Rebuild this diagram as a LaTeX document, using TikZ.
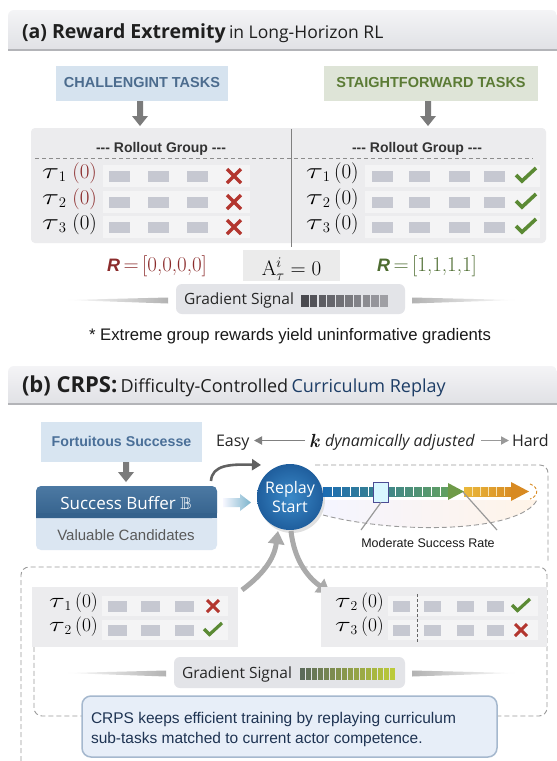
\RequirePackage{fix-cm}
\documentclass[tikz,border=0pt]{standalone}
\usepackage{amsmath,amssymb}
\usepackage{fontspec}
\usetikzlibrary{arrows.meta}
\newfontfamily\osans{Open Sans}
\newfontfamily\arial{Liberation Sans}
\newcommand\fsz[2]{\fontsize{#1}{#2}\selectfont}
\newcommand\wtau{\scalebox{1.5}[1.08]{$\tau$}}
\definecolor{hdrT}{HTML}{F4F4F6}
\definecolor{hdrB}{HTML}{E0E1E5}
\definecolor{hdrLine}{HTML}{B3B4B8}
\definecolor{taskLfill}{HTML}{D6E3EF}
\definecolor{taskLtext}{HTML}{4C6C8E}
\definecolor{taskRfill}{HTML}{DEE4D7}
\definecolor{taskRtext}{HTML}{5B7B35}
\definecolor{arrgray}{HTML}{7B7B7B}
\definecolor{panelc}{HTML}{ECECEE}
\definecolor{bandc}{HTML}{F4F4F5}
\definecolor{sqc}{HTML}{C6C8D1}
\definecolor{xred}{HTML}{B3362F}
\definecolor{cgreen}{HTML}{5B8A34}
\definecolor{dred}{HTML}{8B2B2B}
\definecolor{rgreen}{HTML}{4D6C30}
\definecolor{gboxc}{HTML}{E3E4E8}
\definecolor{navy}{HTML}{1E3352}
\definecolor{fortfill}{HTML}{D8E5F1}
\definecolor{forttext}{HTML}{4A6F98}
\definecolor{bufA}{HTML}{4C79A3}
\definecolor{bufB}{HTML}{34618C}
\definecolor{bufL}{HTML}{DBE6F2}
\definecolor{circI}{HTML}{3B8AC9}
\definecolor{circO}{HTML}{1F5E9D}
\definecolor{capfill}{HTML}{E7EEF8}
\definecolor{capline}{HTML}{A5B8CE}
\definecolor{dashg}{HTML}{9A9A9A}
\definecolor{curblue}{HTML}{1D3D66}
\definecolor{gsA}{HTML}{4A4A50}
\definecolor{gsB}{HTML}{A8A8AD}
\definecolor{ggA}{HTML}{5C6B5A}
\definecolor{ggB}{HTML}{BCCB3A}
\definecolor{pb1}{HTML}{1B6CB3}
\definecolor{pb2}{HTML}{2EA3C6}
\definecolor{pb3}{HTML}{62A060}
\definecolor{pbg}{HTML}{6E9A48}
\definecolor{or1}{HTML}{EAB93C}
\definecolor{or2}{HTML}{D88A22}
\definecolor{bigarr}{HTML}{AAAAAA}
\tikzset{
  tx/.style={inner sep=0pt, outer sep=0pt},
  sq/.style={fill=sqc, minimum width=21pt, minimum height=11pt, inner sep=0pt},
  sqs/.style={fill=sqc, minimum width=17pt, minimum height=11pt, inner sep=0pt},
  taulab/.style={tx, anchor=west, font=\fsz{21}{24}},
  taulabs/.style={tx, anchor=west, font=\fsz{19.5}{22}},
  dashln/.style={draw=dashg, line width=0.9pt, dash pattern=on 5pt off 3pt},
  pics/crossmark/.style={code={\draw[xred, line width=3.4pt] (-7,-7)--(7,7) (-7,7)--(7,-7);}},
  pics/crossmarks/.style={code={\draw[xred, line width=3pt] (-6,-6)--(6,6) (-6,6)--(6,-6);}},
  pics/checkmark/.style={code={\draw[cgreen, line width=3.6pt] (-10,-1)--(-4,5)--(10,-8);}},
  pics/checkmarks/.style={code={\draw[cgreen, line width=3.2pt] (-9,-1)--(-3.5,4.5)--(9,-7);}},
}
\begin{document}
\begin{tikzpicture}[x=1pt,y=-1pt]
\useasboundingbox (0,0) rectangle (557,761);
\fill[white] (0,0) rectangle (557,761);

%% ---------------- (a) header
\shade[top color=hdrT, bottom color=hdrB] (557,50) -- (8,50) [rounded corners=6pt] -- (8,10) -- (557,10) [sharp corners] -- cycle;
\draw[hdrLine, line width=1.2pt] (8,50) -- (557,50);
\node[tx, anchor=base west, text=black!88] (titleA) at (22,38)
  {{\osans\bfseries\fsz{19.5}{22}(a) Reward Extremity} {\osans\fsz{17.5}{20}in Long-Horizon RL}};

%% task boxes
\node[fill=taskLfill, minimum width=172pt, minimum height=35pt, inner sep=0pt,
  font=\arial\bfseries\fsz{14.5}{16}, text=taskLtext] (chal) at (142,83) {CHALLENGINT TASKS};
\node[fill=taskRfill, minimum width=214pt, minimum height=35pt, inner sep=0pt,
  font=\arial\bfseries\fsz{14.5}{16}, text=taskRtext] (stra) at (431,83) {STAIGHTFORWARD TASKS};
\foreach \ax/\nm in {140/arrL,428/arrR}{
  \fill[arrgray] (\ax-3,101) -- (\ax+3,101) -- (\ax+3,116) -- (\ax+8,116) -- (\ax,126) -- (\ax-8,116) -- (\ax-3,116) -- cycle;
}

%% rollout panel
\fill[panelc, rounded corners=4pt] (31,128) rectangle (546,243);
\foreach \y in {176,202,227}{
  \fill[bandc] (103,\y-11) rectangle (250,\y+11);
  \fill[bandc] (365,\y-11) rectangle (540,\y+11);
}
\draw[black!50, line width=0.8pt] (291,129) -- (291,247);
\node[tx, font=\arial\bfseries\fsz{14}{16}, text=black!80, anchor=base] (rgL) at (161,152) {--- Rollout Group ---};
\node[tx, font=\arial\bfseries\fsz{14}{16}, text=black!80, anchor=base] (rgR) at (417,152) {--- Rollout Group ---};
\draw[black!45, line width=0.9pt, dash pattern=on 4pt off 3pt] (35,158) -- (533,158);

\foreach \y/\n/\c in {176/1/dred,202/2/dred,227/3/black}{
  \node[taulab] (lt\n) at (42,\y-3) {$\wtau_{\n}\;\textcolor{\c}{(0)}$};
  \foreach \x in {119,158,197} \node[sq] (ls\n-\x) at (\x,\y) {};
  \pic at (234,\y) {crossmark};
}
\foreach \y/\n in {176/1,202/2,227/3}{
  \node[taulab] (rt\n) at (306,\y-3) {$\wtau_{\n}\,(0)$};
  \foreach \x in {382,419,459,494} \node[sq] (rs\n-\x) at (\x,\y) {};
  \pic at (526,\y) {checkmark};
}

%% reward line
\node[tx, anchor=base, text=dred] (R0) at (157,271)
  {{\arial\bfseries\itshape\fsz{18}{20}R}{\fsz{21}{24}\,=\,[0,0,0,0]}};
\fill[black!8] (243,250) rectangle (340,281);
\node[tx, anchor=base, font=\fsz{21}{24}] (Aeq) at (291.5,275) {$\mathrm{A}^{i}_{\tau}=0$};
\node[tx, anchor=base, text=rgreen] (R1) at (427,271)
  {{\arial\bfseries\itshape\fsz{18}{20}R}{\fsz{21}{24}\,=\,[1,1,1,1]}};

%% gradient signal (a)
\shade[left color=white, right color=black!30] (67,300) -- (168,297.5) -- (168,303.5) -- cycle;
\shade[left color=black!30, right color=white] (412,297.5) -- (515,300) -- (412,303.5) -- cycle;
\fill[gboxc, rounded corners=6pt] (176,284) rectangle (405,314);
\node[tx, anchor=base west, font=\osans\fsz{15.5}{18}, text=black!85] (gsA) at (184,304.5) {Gradient Signal};
\foreach \i in {0,...,9}{
  \pgfmathsetmacro\p{100-\i*10}
  \fill[gsA!\p!gsB] (301+\i*8.8,294.5) rectangle (301+\i*8.8+7.6,306.5);
}
\node[tx, anchor=base, font=\arial\fsz{16.7}{19}, text=black!90] (foot) at (290,340)
  {* Extreme group rewards yield uninformative gradients};

%% ---------------- (b) header
\shade[top color=hdrT, bottom color=hdrB] (557,404) -- (8,404) [rounded corners=6pt] -- (8,366) -- (557,366) [sharp corners] -- cycle;
\draw[hdrLine, line width=1.2pt] (8,404) -- (557,404);
\node[tx, anchor=base west, text=black!88] (titleB) at (22,392)
  {{\osans\bfseries\fsz{22}{26}(b) CRPS:} {\osans\fsz{18}{21}Difficulty-Controlled} {\osans\fsz{18}{21}\color{curblue}Curriculum Replay}};

%% fortuitous + buffer
\node[fill=fortfill, minimum width=161pt, minimum height=40pt, inner sep=0pt,
  font=\arial\bfseries\fsz{14.2}{16}, text=forttext] (fort) at (121.5,441.5) {Fortuitous Successe};
\fill[arrgray] (123,462) -- (129,462) -- (129,472) -- (134,472) -- (126,482) -- (118,472) -- (123,472) -- cycle;

\fill[bufL, rounded corners=5pt] (36,486) rectangle (217,550);
\shade[top color=bufA, bottom color=bufB, rounded corners=5pt] (36,518) -- (36,486) -- (217,486) -- (217,518) [sharp corners] -- cycle;
\fill[bufB] (36,513) rectangle (217,518);
\node[tx, text=white, font=\osans\fsz{17}{20}] (buf) at (126,503) {Success Buffer $\mathbb{B}$};
\node[tx, text=black!65, font=\arial\fsz{15}{17}] (cand) at (126,535) {Valuable Candidates};

%% arrows into replay
\shade[left color=white!85!blue!20, right color=blue!30!cyan!40!white!80!black] (223,498) -- (240,498) -- (240,494) -- (251,502.5) -- (240,511) -- (240,507) -- (223,507) -- cycle;
\draw[black!62, line width=2.6pt, -{Triangle[length=9pt,width=11pt]}] (211,481) .. controls (212,465) and (230,464) .. (261,465);

%% easy / hard line
\node[tx, anchor=base west, font=\osans\fsz{16}{19}, text=black!85] (easy) at (216,446) {Easy};
\draw[black!50, line width=1.8pt, -{Triangle[length=8pt,width=8pt]}] (305,440.5) -- (254,440.5);
\node[tx, anchor=base west, font=\rmfamily\bfseries\itshape\fsz{19}{21}, text=black!90] (kk) at (309,447) {k};
\node[tx, anchor=base west, font=\osans\itshape\fsz{16}{19}, text=black!85] (dyn) at (325,446) {dynamically adjusted};
\draw[black!40, line width=1.8pt, -{Triangle[length=8pt,width=8pt]}] (481,440.5) -- (509,440.5);
\node[tx, anchor=base west, font=\osans\fsz{16}{19}, text=black!85] (hard) at (512,446) {Hard};

%% upper dashed region
\shade[left color=blue!4, right color=orange!9] (323,500) -- (537,500) .. controls (520,532) and (400,535) .. (323,515) -- cycle;
\draw[dashln, rounded corners=8pt] (315,465) -- (548,465) -- (548,562);
\draw[dashln] (323,515) .. controls (400,535) and (520,532) .. (537,500);

%% replay circle
\fill[black!12] (292,500) circle (33);
\shade[inner color=circI, outer color=circO] (290,497) circle (33);
\node[tx, align=center, text=white, font=\osans\fsz{16}{19}] (replay) at (290,497) {Replay\\Start};

%% progress bar
\shade[left color=pb1, middle color=pb2, right color=pb3] (323,487) rectangle (449,496);
\foreach \x in {332,341,...,440} \draw[white, line width=0.8pt] (\x,487) -- (\x,496);
\fill[pbg] (448,483) -- (464,491.5) -- (448,500) -- cycle;
\shade[left color=or1, right color=or2] (464,487) rectangle (513,496);
\foreach \x in {472,480,...,504} \draw[white!60!or1, line width=0.8pt] (\x,487) -- (\x,496);
\fill[or2] (511,482) -- (529,491.5) -- (511,501) -- cycle;
\draw[or2, line width=0.9pt, dash pattern=on 3pt off 2pt] (530,484) .. controls (539,487) and (539,496) .. (530,499);
\node[fill=blue!20!cyan!15!white, draw=blue!40!black!70, line width=0.8pt, minimum width=15pt, minimum height=20pt, inner sep=0pt] (slider) at (381,492) {};
\draw[black!40, line width=1.2pt] (slider.south) -- (361,530);
\draw[black!40, line width=1.2pt] (463,492) -- (497,530);
\node[tx, font=\arial\fsz{12.5}{15}, text=black!90] (mod) at (428,543) {Moderate Success Rate};

%% lower dashed region
\draw[dashln, rounded corners=8pt] (21,761) -- (21,567) -- (547,567) -- (547,716) -- (34,716) -- (34,640);

%% big curved arrows
\draw[bigarr, line width=5pt, -{Triangle[length=13pt,width=16pt]}] (242,590) .. controls (262,575) and (274,560) .. (278,531);
\draw[bigarr, line width=5pt, -{Triangle[length=13pt,width=16pt]}] (291,531) .. controls (294,558) and (306,576) .. (330,593);

%% lower panels
\fill[panelc] (32,587) rectangle (238,647);
\fill[panelc] (321,587) rectangle (547,647);
\foreach \y in {606,630}{
  \fill[bandc] (102,\y-10) rectangle (228,\y+10);
  \fill[bandc] (388,\y-10) rectangle (538,\y+10);
}
\node[taulabs] (bl1) at (49,603) {$\wtau_{1}\,(0)$};
\node[taulabs] (bl2) at (49,627) {$\wtau_{2}\,(0)$};
\foreach \y/\n in {606/1,630/2}{
  \foreach \x in {117,150,184} \node[sqs, minimum width=19pt] (bs\n-\x) at (\x,\y) {};
}
\pic at (213,606) {crossmarks};
\pic at (213,630) {checkmarks};
\node[taulabs] (br1) at (335,603) {$\wtau_{2}\,(0)$};
\node[taulabs] (br2) at (335,627) {$\wtau_{3}\,(0)$};
\foreach \y/\n in {606/1,630/2}{
  \foreach \x in {401,432,465,495} \node[sqs] (cs\n-\x) at (\x,\y) {};
}
\draw[black!60, line width=0.9pt, dash pattern=on 3pt off 2pt] (417,594) -- (417,642);
\pic at (521,606) {checkmarks};
\pic at (521,630) {crossmarks};

%% gradient signal (b)
\shade[left color=white, right color=black!30] (67,673) -- (166,670.5) -- (166,676.5) -- cycle;
\shade[left color=black!30, right color=white] (412,670.5) -- (515,673) -- (412,676.5) -- cycle;
\fill[gboxc, rounded corners=6pt] (174,657) rectangle (405,688);
\node[tx, anchor=base west, font=\osans\fsz{15.5}{18}, text=black!85] (gsB) at (182,678) {Gradient Signal};
\foreach \i in {0,...,15}{
  \pgfmathsetmacro\p{100-\i*6.6}
  \fill[ggA!\p!ggB] (300+\i*6,667.5) rectangle (300+\i*6+4.6,679.5);
}

%% caption
\node[fill=capfill, draw=capline, line width=1.5pt, rounded corners=9pt,
  minimum width=415pt, minimum height=61pt, inner sep=0pt] (capbox) at (289.5,726.5) {};
\node[tx, anchor=base west, font=\arial\fsz{15.5}{20}, text=navy] (cap1) at (91,723)
  {CRPS keeps efficient training by replaying curriculum};
\node[tx, anchor=base west, font=\arial\fsz{15.5}{20}, text=navy] (cap2) at (91,743)
  {sub-tasks matched to current actor competence.};
\end{tikzpicture}
\end{document}
